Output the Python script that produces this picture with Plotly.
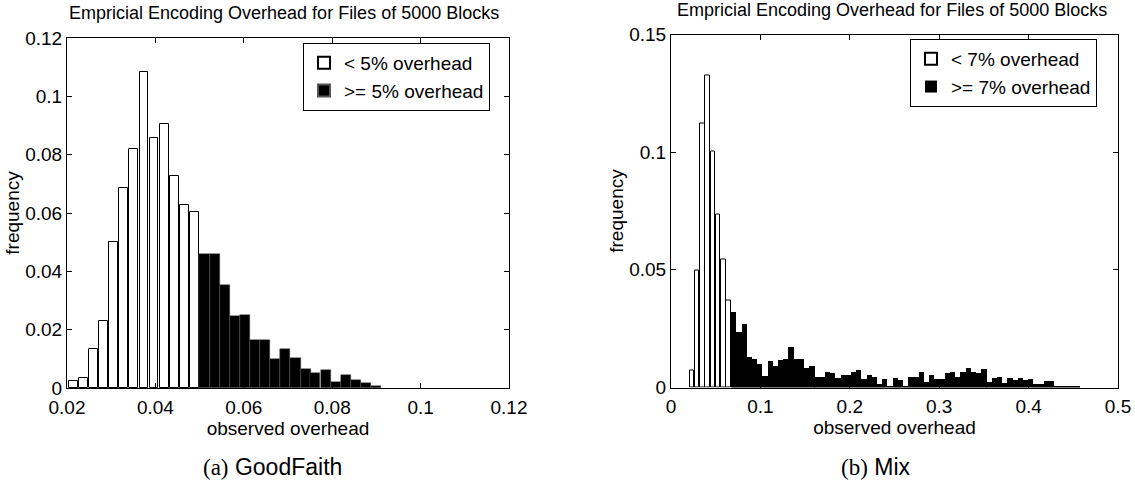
import plotly.graph_objects as go

# ---------------- data: (a) GoodFaith ----------------
centers_a_white = [0.0214, 0.0237, 0.0260, 0.0283, 0.0305, 0.0328, 0.0351,
                   0.0374, 0.0397, 0.0420, 0.0443, 0.0465, 0.0488]
freq_a_white = [0.0023, 0.0034, 0.0135, 0.0231, 0.0499, 0.0686, 0.0821,
                0.1085, 0.0858, 0.0906, 0.0728, 0.0627, 0.0605]
centers_a_black = [0.0511, 0.0534, 0.0557, 0.0580, 0.0602, 0.0625, 0.0648,
                   0.0671, 0.0694, 0.0717, 0.0740, 0.0762, 0.0785, 0.0808,
                   0.0831, 0.0854, 0.0877, 0.0900]
freq_a_black = [0.0458, 0.0458, 0.0352, 0.0248, 0.0250, 0.0163, 0.0163,
                0.0101, 0.0135, 0.0104, 0.0066, 0.0053, 0.0061, 0.0021,
                0.0043, 0.0029, 0.0018, 0.0007]

# ---------------- data: (b) Mix ----------------
centers_b_white = [0.0235, 0.0293, 0.0352, 0.0410, 0.0468, 0.0527, 0.0585, 0.0643]
freq_b_white = [0.0071, 0.0499, 0.1120, 0.1327, 0.1004, 0.0735, 0.0544, 0.0368]
centers_b_black = [
    0.0701, 0.0760, 0.0818, 0.0876, 0.0935, 0.0993, 0.1051, 0.1110, 0.1168, 0.1226,
    0.1284, 0.1343, 0.1401, 0.1459, 0.1518, 0.1576, 0.1634, 0.1693, 0.1751, 0.1809,
    0.1867, 0.1926, 0.1984, 0.2042, 0.2101, 0.2159, 0.2217, 0.2276, 0.2334, 0.2392,
    0.2450, 0.2509, 0.2567, 0.2625, 0.2684, 0.2742, 0.2800, 0.2859, 0.2917, 0.2975,
    0.3033, 0.3092, 0.3150, 0.3208, 0.3267, 0.3325, 0.3383, 0.3442, 0.3500, 0.3558,
    0.3616, 0.3675, 0.3733, 0.3791, 0.3850, 0.3908, 0.3966, 0.4025, 0.4083, 0.4141,
    0.4199, 0.4258, 0.4316, 0.4374, 0.4433, 0.4491, 0.4549]
freq_b_black = [
    0.0322, 0.0239, 0.0272, 0.0133, 0.0123, 0.0100, 0.0052, 0.0113, 0.0095, 0.0119,
    0.0124, 0.0174, 0.0123, 0.0123, 0.0085, 0.0095, 0.0048, 0.0048, 0.0066, 0.0062,
    0.0042, 0.0054, 0.0054, 0.0066, 0.0077, 0.0038, 0.0057, 0.0048, 0.0017, 0.0038,
    0.0006, 0.0042, 0.0034, 0.0010, 0.0048, 0.0048, 0.0066, 0.0024, 0.0057, 0.0038,
    0.0038, 0.0062, 0.0066, 0.0048, 0.0066, 0.0085, 0.0066, 0.0064, 0.0081, 0.0027,
    0.0042, 0.0048, 0.0023, 0.0042, 0.0034, 0.0042, 0.0034, 0.0038, 0.0017, 0.0017,
    0.0031, 0.0028, 0.0010, 0.0010, 0.0010, 0.0010, 0.0010]

ticks_a_x = [0.02, 0.04, 0.06, 0.08, 0.1, 0.12]
ticks_a_x_text = ["0.02", "0.04", "0.06", "0.08", "0.1", "0.12"]
ticks_a_y = [0, 0.02, 0.04, 0.06, 0.08, 0.1, 0.12]
ticks_a_y_text = ["0", "0.02", "0.04", "0.06", "0.08", "0.1", "0.12"]
ticks_b_x = [0, 0.1, 0.2, 0.3, 0.4, 0.5]
ticks_b_x_text = ["0", "0.1", "0.2", "0.3", "0.4", "0.5"]
ticks_b_y = [0, 0.05, 0.1, 0.15]
ticks_b_y_text = ["0", "0.05", "0.1", "0.15"]

title_text = "Empricial Encoding Overhead for Files of 5000 Blocks"

# ---------------- figure ----------------
W, H = 1135, 485
FONT = "Liberation Sans, Arial, Helvetica, sans-serif"
FS = 19

fig = go.Figure()
white_marker = dict(color="white", line=dict(color="black", width=1))
black_marker = dict(color="black", line=dict(color="#555555", width=0.5))

fig.add_trace(go.Bar(x=centers_a_white, y=freq_a_white, width=0.00199,
                     marker=white_marker, name="< 5% overhead",
                     xaxis="x", yaxis="y", legend="legend"))
fig.add_trace(go.Bar(x=centers_a_black, y=freq_a_black, width=0.00228,
                     marker=black_marker, name=">= 5% overhead",
                     xaxis="x", yaxis="y", legend="legend"))
fig.add_trace(go.Bar(x=centers_b_white, y=freq_b_white, width=0.0050,
                     marker=white_marker, name="< 7% overhead",
                     xaxis="x2", yaxis="y2", legend="legend2"))
fig.add_trace(go.Bar(x=centers_b_black, y=freq_b_black, width=0.00583,
                     marker=dict(color="black", line=dict(color="black", width=0)),
                     name=">= 7% overhead",
                     xaxis="x2", yaxis="y2", legend="legend2"))

axis_common = dict(showline=True, linecolor="black", linewidth=1, mirror="allticks",
                   ticks="inside", ticklen=5, tickcolor="black", tickwidth=1,
                   showgrid=False, zeroline=False, automargin=False,
                   tickfont=dict(family=FONT, size=FS, color="black"))

def px_x(p):
    return p / W

def px_y(p):
    return 1 - p / H

fig.update_layout(
    width=W, height=H,
    margin=dict(l=0, r=0, t=0, b=0, autoexpand=False),
    paper_bgcolor="white", plot_bgcolor="white",
    barmode="overlay", bargap=0,
    font=dict(family=FONT, size=FS, color="black"),
    xaxis=dict(axis_common, domain=[px_x(67), px_x(509)], anchor="y",
               range=[0.02, 0.12], tickvals=ticks_a_x, ticktext=ticks_a_x_text,
               ticklabelstandoff=2,
               title=dict(text="observed overhead", standoff=0,
                          font=dict(family=FONT, size=FS))),
    yaxis=dict(axis_common, domain=[px_y(388), px_y(38)], anchor="x",
               range=[0, 0.12], tickvals=ticks_a_y, ticktext=ticks_a_y_text,
               title=dict(text="frequency", standoff=0,
                          font=dict(family=FONT, size=FS))),
    xaxis2=dict(axis_common, domain=[px_x(671), px_x(1118)], anchor="y2",
                range=[0, 0.5], tickvals=ticks_b_x, ticktext=ticks_b_x_text,
                ticklabelstandoff=2,
                title=dict(text="observed overhead", standoff=0,
                           font=dict(family=FONT, size=FS))),
    yaxis2=dict(axis_common, domain=[px_y(387.5), px_y(34.5)], anchor="x2",
                range=[0, 0.15], tickvals=ticks_b_y, ticktext=ticks_b_y_text,
                title=dict(text="frequency", standoff=0,
                           font=dict(family=FONT, size=FS))),
    legend=dict(x=px_x(303), y=px_y(43), xanchor="left", yanchor="top",
                bordercolor="black", borderwidth=1, bgcolor="white",
                font=dict(family=FONT, size=FS), tracegroupgap=0,
                itemsizing="constant"),
    legend2=dict(x=px_x(910), y=px_y(39), xanchor="left", yanchor="top",
                 bordercolor="black", borderwidth=1, bgcolor="white",
                 font=dict(family=FONT, size=FS), tracegroupgap=0,
                 itemsizing="constant"),
    showlegend=True,
)

annotations = [
    dict(text=title_text, x=px_x(284), y=px_y(13), xref="paper", yref="paper",
         xanchor="center", yanchor="middle", showarrow=False,
         font=dict(family=FONT, size=18)),
    dict(text=title_text, x=px_x(892), y=px_y(10), xref="paper", yref="paper",
         xanchor="center", yanchor="middle", showarrow=False,
         font=dict(family=FONT, size=18)),
    dict(text="<span style=\"font-family:'Liberation Serif', serif\">(a)</span> GoodFaith",
         x=px_x(272), y=px_y(467), xref="paper", yref="paper",
         xanchor="center", yanchor="middle", showarrow=False,
         font=dict(family=FONT, size=23)),
    dict(text="<span style=\"font-family:'Liberation Serif', serif\">(b)</span> Mix",
         x=px_x(875), y=px_y(467), xref="paper", yref="paper",
         xanchor="center", yanchor="middle", showarrow=False,
         font=dict(family=FONT, size=23)),
]
fig.update_layout(annotations=annotations)

fig.write_html(
    "out.html",
    config={"displayModeBar": False},
    post_script="document.body.style.margin='0';document.body.style.padding='0';"
                "document.body.style.overflow='hidden';",
)
